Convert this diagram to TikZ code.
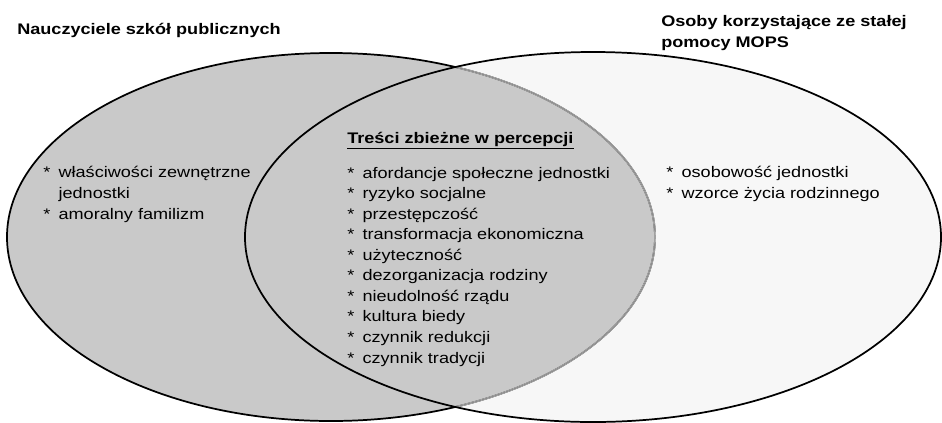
\documentclass[tikz,border=0pt]{standalone}
\usepackage{fontspec}
\setmainfont{Liberation Sans}[FakeStretch=1.18]
\usetikzlibrary{positioning}
\tikzset{
    headtext/.style={font=\fontsize{11.5}{15.6}\selectfont\bfseries, anchor=base west, inner sep=0pt, align=left},
    listtext/.style={font=\fontsize{11.5}{15.4}\selectfont, anchor=base west, inner sep=0pt, align=left},
    teacherset/.style={fill=black!21},
    mopsset/.style={fill=black!3},
    setline/.style={line width=1.3pt},
}
\newcommand{\pkt}{\makebox[11.5pt][l]{*}}
\newcommand{\wciecie}{\makebox[11.5pt][l]{}}

\begin{document}
\begin{tikzpicture}[x=0.75pt, y=-0.75pt]
\useasboundingbox (0,0) rectangle (942,422);

% sets
\fill[mopsset] (593,237) ellipse [x radius=348, y radius=185];
\fill[teacherset] (331,237) ellipse [x radius=324, y radius=184];
\draw[setline] (331,237) ellipse [x radius=324, y radius=184];
\begin{scope}
\clip (593,237) ellipse [x radius=348, y radius=185];
\draw[setline, black!21] (331,237) ellipse [x radius=324, y radius=184];
\draw[line width=0.8pt, black!45] (331,237) ellipse [x radius=324, y radius=184];
\end{scope}
\draw[setline] (593,237) ellipse [x radius=348, y radius=185];

% titles (base = last line)
\node[headtext] (teachers) at (17,34) {Nauczyciele szkół publicznych};
\node[headtext] (mops) at (661,47) {Osoby korzystające ze stałej\\pomocy MOPS};
\node[headtext] (common) at (347,143) {\underline{Treści zbieżne w percepcji}};

% lists
\node[listtext] (teacherlist) at (43,219) {\pkt właściwości zewnętrzne\\
\wciecie jednostki\\
\pkt amoralny familizm};
\node[listtext] (commonlist) at (347,363) {\pkt afordancje społeczne jednostki\\
\pkt ryzyko socjalne\\
\pkt przestępczość\\
\pkt transformacja ekonomiczna\\
\pkt użyteczność\\
\pkt dezorganizacja rodziny\\
\pkt nieudolność rządu\\
\pkt kultura biedy\\
\pkt czynnik redukcji\\
\pkt czynnik tradycji};
\node[listtext] (mopslist) at (666,198) {\pkt osobowość jednostki\\
\pkt wzorce życia rodzinnego};
\end{tikzpicture}
\end{document}
